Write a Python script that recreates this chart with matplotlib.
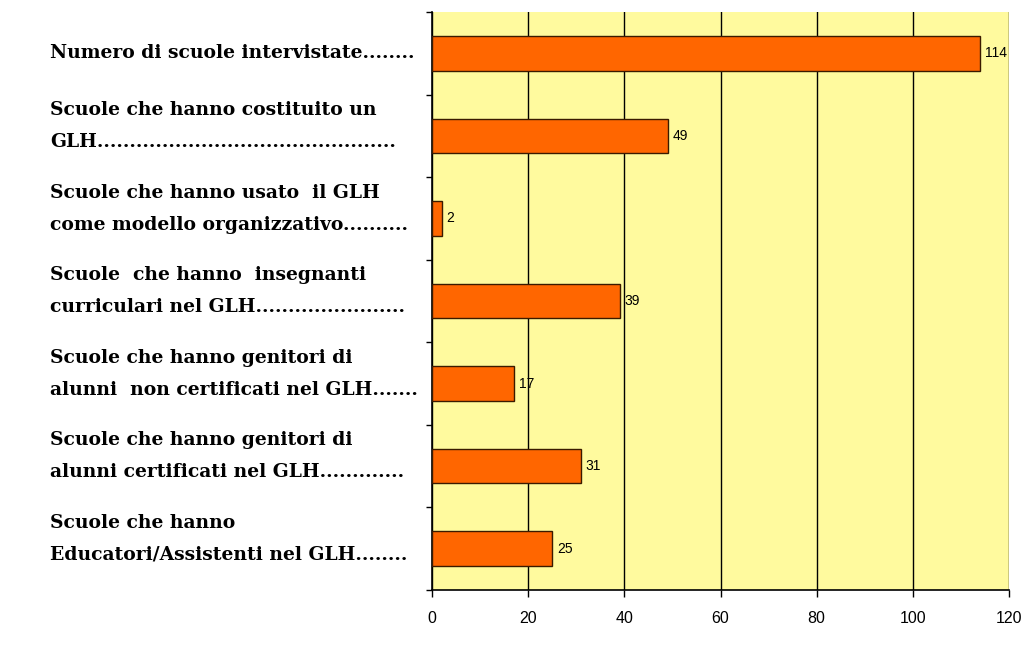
import numpy as np
import matplotlib.pyplot as plt
from matplotlib.ticker import FixedLocator
from matplotlib.transforms import blended_transform_factory

labels = [
    "Numero di scuole intervistate........",
    "Scuole che hanno costituito un\nGLH..............................................",
    "Scuole che hanno usato  il GLH\ncome modello organizzativo..........",
    "Scuole  che hanno  insegnanti\ncurriculari nel GLH.......................",
    "Scuole che hanno genitori di\nalunni  non certificati nel GLH.......",
    "Scuole che hanno genitori di\nalunni certificati nel GLH.............",
    "Scuole che hanno\nEducatori/Assistenti nel GLH........",
]
values = [114, 49, 2, 39, 17, 31, 25]
xticks = [0, 20, 40, 60, 80, 100, 120]

narrow = ['Liberation Sans Narrow', 'Liberation Sans', 'DejaVu Sans']

fig = plt.figure(figsize=(10.24, 6.65), dpi=100)
ax = fig.add_axes([432 / 1024, 1 - 590 / 665, 577 / 1024, 578 / 665])
ax.set_facecolor('#FFFA9E')

y = np.arange(len(values))
ax.barh(y, values, height=0.42, color='#FF6600', edgecolor='#3a1a00', linewidth=1.0, zorder=3)
for yi, v in zip(y, values):
    ax.text(v + 1.0, yi, str(v), va='center', ha='left', fontsize=10, family=narrow)

ax.set_xlim(0, 120)
ax.set_ylim(len(values) - 0.5, -0.5)
ax.set_xticks(xticks)
ax.set_xticklabels([str(t) for t in xticks], family=narrow, fontsize=11.5)
ax.tick_params(axis='x', direction='out', length=5, width=1, pad=10)
ax.grid(axis='x', color='black', linewidth=1.0, zorder=1)

# small ticks on the left spine between categories
ax.set_yticks([])
ax.yaxis.set_minor_locator(FixedLocator(np.arange(-0.5, len(values), 1.0)))
ax.tick_params(axis='y', which='minor', direction='out', length=4, width=1)

for s in ['top', 'right']:
    ax.spines[s].set_visible(False)
ax.spines['left'].set_linewidth(1.2)
ax.spines['bottom'].set_linewidth(1.2)

trans = blended_transform_factory(fig.transFigure, ax.transData)
for yi, lab in zip(y, labels):
    off = 0.12 if '\n' in lab else 0.0
    ax.text(50 / 1024, yi - off, lab, transform=trans,
            ha='left', va='center', fontsize=13.5, fontweight='bold', family='DejaVu Serif',
            linespacing=2.0)

fig.savefig('out.png', dpi=100)
